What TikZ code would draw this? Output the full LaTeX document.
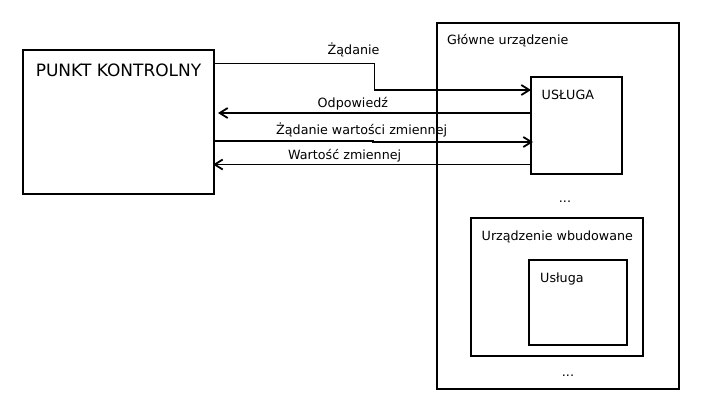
\documentclass[tikz,border=0pt]{standalone}
\usepackage{fontspec}
\setmainfont{DejaVu Sans}
\usetikzlibrary{arrows.meta}
\begin{document}
\begin{tikzpicture}[x=1pt,y=-1pt,
  box/.style={draw, line width=1.8pt, inner sep=0pt, outer sep=0pt, rectangle},
  lbl/.style={inner sep=0pt, anchor=base west, font=\fontsize{12.7}{15}\selectfont},
  arr/.style={line width=1.8pt, -{Straight Barb[length=8pt,width=10pt,line width=1.8pt]}}]
\useasboundingbox (0,0) rectangle (701,412);
% boxes
\node[box, minimum width=191pt, minimum height=144pt] (pk) at (118.5,122) {};
\node[box, minimum width=242pt, minimum height=366pt] (main) at (558,206) {};
\node[box, minimum width=91pt, minimum height=97pt] (svc) at (576.5,125.5) {};
\node[box, minimum width=172pt, minimum height=138pt] (emb) at (557,287) {};
\node[box, minimum width=98pt, minimum height=85pt] (svc2) at (578,302.5) {};
% titles
\node[inner sep=0pt, anchor=base, font=\fontsize{17}{20}\selectfont] (pkt) at (118.5,76) {PUNKT KONTROLNY};
\node[lbl] (maint) at (447,45) {Główne urządzenie};
\node[lbl] (svct) at (541.5,99.5) {USŁUGA};
\node[lbl, anchor=base] (dots1) at (565,202) {...};
\node[lbl] (embt) at (481.5,240) {Urządzenie wbudowane};
\node[lbl] (svc2t) at (540,282) {Usługa};
\node[lbl, anchor=base] (dots2) at (568,376) {...};
% connectors
\coordinate (r1) at (374.5,90);
\draw[arr] ([yshift=-13.5pt]pk.north east) -| (r1) -- (svc.west |- r1);
\node[lbl] (l1) at (327.5,55) {Żądanie};
\draw[arr] ([yshift=-36pt]svc.north west) -- ([yshift=-63pt,xshift=4pt]pk.north east);
\node[lbl] (l2) at (317.5,107.5) {Odpowiedź};
\coordinate (s3) at (373,142);
\draw[arr] ([yshift=-91pt]pk.north east) -| (s3) -- ([xshift=2pt]svc.west |- s3);
\node[lbl] (l3) at (276,134) {Żądanie wartości zmiennej};
\draw[arr] ([yshift=-87.5pt]svc.north west) -- ([yshift=-114.5pt,xshift=-1pt]pk.north east);
\node[lbl] (l4) at (288,159.5) {Wartość zmiennej};
\end{tikzpicture}
\end{document}
